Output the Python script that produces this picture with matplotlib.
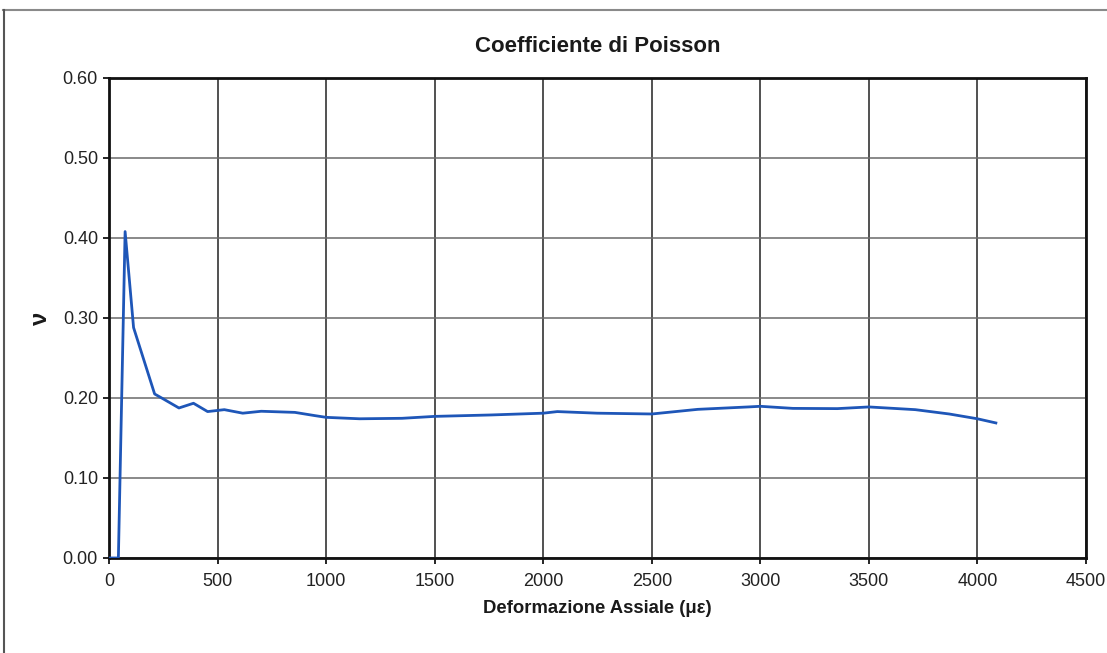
import matplotlib
matplotlib.use("Agg")
import matplotlib.pyplot as plt
from matplotlib.lines import Line2D
from matplotlib.ticker import FormatStrFormatter

# ── Dati ────────────────────────────────────────────────────────────────────
deformazione = [0, 43, 74, 113, 210, 245, 322, 389, 454, 531, 616, 701, 856,
                947, 1000, 1154, 1350, 1500, 1762, 2000, 2065, 2248, 2500,
                2712, 2944, 3000, 3150, 3355, 3500, 3714, 3870, 4000, 4085]
poisson = [0.0, 0.0, 0.408, 0.288, 0.205, 0.1996, 0.1875, 0.1934, 0.183,
           0.1854, 0.181, 0.1834, 0.182, 0.178, 0.1758, 0.174, 0.1746, 0.177,
           0.1788, 0.181, 0.183, 0.181, 0.180, 0.1858, 0.1888, 0.1896, 0.187,
           0.1867, 0.1888, 0.1854, 0.180, 0.174, 0.1688]

x_ticks = [0, 500, 1000, 1500, 2000, 2500, 3000, 3500, 4000, 4500]
y_ticks = [0.0, 0.1, 0.2, 0.3, 0.4, 0.5, 0.6]

plt.rcParams["font.family"] = ["Liberation Sans", "DejaVu Sans"]

fig = plt.figure(figsize=(11.07, 6.53), dpi=100)
ax = fig.add_axes([0.0985, 0.1455, 0.8825, 0.7351])

ax.plot(deformazione, poisson, color="#1e56b8", linewidth=2.0, zorder=3)

ax.set_xlim(0, 4500)
ax.set_ylim(0, 0.6)
ax.set_xticks(x_ticks)
ax.set_yticks(y_ticks)
ax.yaxis.set_major_formatter(FormatStrFormatter("%.2f"))
ax.tick_params(axis="both", labelsize=13, length=4, width=1.2,
               direction="out", color="black", colors="#222222")
ax.tick_params(axis="x", pad=7)
ax.tick_params(axis="y", pad=4)

# griglia: verticali nere, orizzontali grigie
ax.xaxis.grid(True, color="#222222", linewidth=1.1)
ax.yaxis.grid(True, color="#6a6a6a", linewidth=1.1)
ax.set_axisbelow(True)
for side in ("left", "bottom", "top", "right"):
    ax.spines[side].set_linewidth(2.0)
    ax.spines[side].set_color("#111111")

ax.set_title("Coefficiente di Poisson", fontsize=16, fontweight="bold",
             pad=19, color="#1a1a1a")
ax.set_xlabel("Deformazione Assiale (με)", fontsize=13.3, fontweight="bold",
              labelpad=7, color="#1a1a1a")
ax.set_ylabel("ν", fontsize=17, fontweight="bold", labelpad=8,
              color="#1a1a1a")

# cornice dell'area del grafico (scansione)
fig.add_artist(Line2D([0.003, 1.0], [0.985, 0.985], color="#8a8a8a",
                      linewidth=1.5, transform=fig.transFigure))
fig.add_artist(Line2D([0.004, 0.004], [0.0, 0.985], color="#555555",
                      linewidth=1.5, transform=fig.transFigure))

fig.savefig("out.png", dpi=100)
